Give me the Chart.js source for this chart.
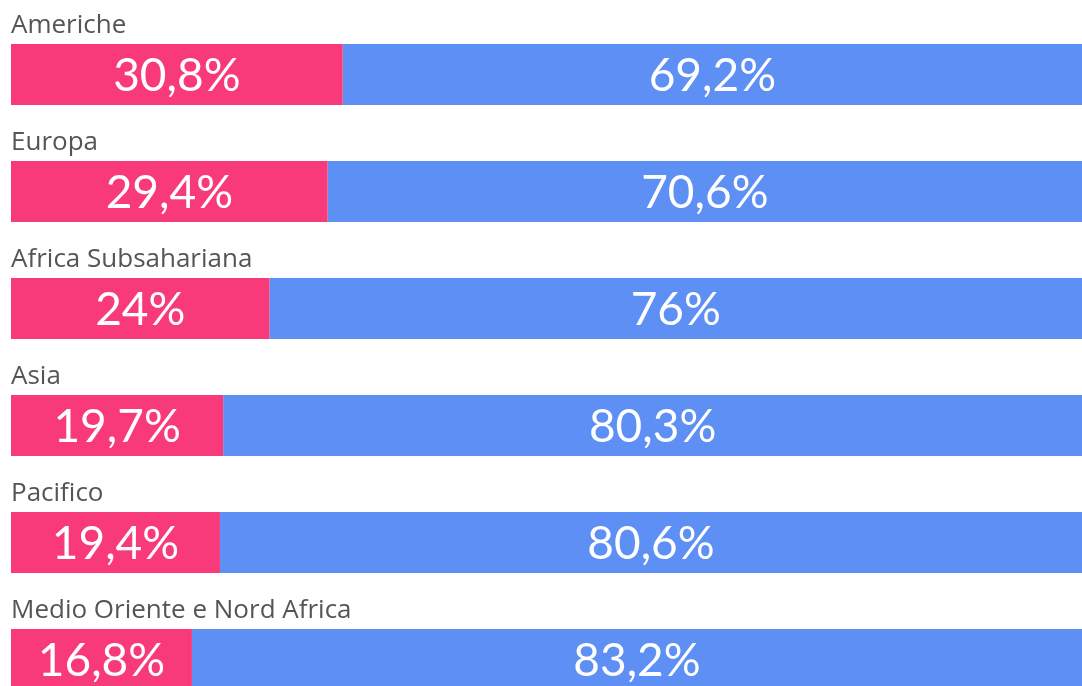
<!DOCTYPE html>
<html>
<head>
<meta charset="utf-8">
<script src="https://cdn.jsdelivr.net/npm/chart.js@4"></script>
<style>
  html, body { margin: 0; padding: 0; background: #fff; overflow: hidden; }
  #wrap { position: relative; width: 1089px; height: 720px; }
</style>
</head>
<body>
<div id="wrap"><canvas id="chart"></canvas></div>
<script>
const regions = ['Americhe', 'Europa', 'Africa Subsahariana', 'Asia', 'Pacifico', 'Medio Oriente e Nord Africa'];
const pinkShare = [30.8, 29.4, 24, 19.7, 19.4, 16.8];
const blueShare = [69.2, 70.6, 76, 80.3, 80.6, 83.2];

const PINK = '#f83a7a';
const BLUE = '#5e8ff4';
const LABEL_FONT = '"Open Sans", Lato, sans-serif';
const VALUE_FONT = 'Lato, "Open Sans", sans-serif';

const fmt = v => String(v).replace('.', ',') + '%';

// category names above bars + values inside segments
const labelPlugin = {
    id: 'labels',
    afterDatasetsDraw(chart) {
        const ctx = chart.ctx;
        ctx.save();
        chart.getDatasetMeta(0).data.forEach((bar, i) => {
            const top = bar.y - bar.height / 2;
            ctx.font = '26px ' + LABEL_FONT;
            ctx.fillStyle = '#555';
            ctx.textAlign = 'left';
            ctx.textBaseline = 'alphabetic';
            ctx.fillText(regions[i], chart.chartArea.left, top - 11);
        });
        chart.data.datasets.forEach((ds, di) => {
            chart.getDatasetMeta(di).data.forEach((bar, i) => {
                const left = Math.min(bar.x, bar.base);
                const right = Math.min(Math.max(bar.x, bar.base), 1082);
                ctx.font = '46px ' + VALUE_FONT;
                ctx.fillStyle = '#fff';
                ctx.textAlign = 'center';
                ctx.textBaseline = 'middle';
                ctx.fillText(fmt(ds.data[i]), (left + right) / 2, bar.y + 2);
            });
        });
        ctx.restore();
    }
};

new Chart(document.getElementById('chart'), {
    type: 'bar',
    data: {
        labels: regions,
        datasets: [
            { data: pinkShare, backgroundColor: PINK, borderWidth: 0 },
            { data: blueShare, backgroundColor: BLUE, borderWidth: 0 }
        ]
    },
    options: {
        indexAxis: 'y',
        responsive: true,
        maintainAspectRatio: false,
        animation: false,
        layout: { padding: { top: 16, left: 11, right: 1, bottom: 2 } },
        datasets: { bar: { categoryPercentage: 1, barPercentage: 0.521 } },
        plugins: { legend: { display: false }, tooltip: { enabled: false } },
        scales: {
            x: { stacked: true, min: 0, max: 100, display: false },
            y: { stacked: true, display: false }
        }
    },
    plugins: [labelPlugin]
});
</script>
</body>
</html>
